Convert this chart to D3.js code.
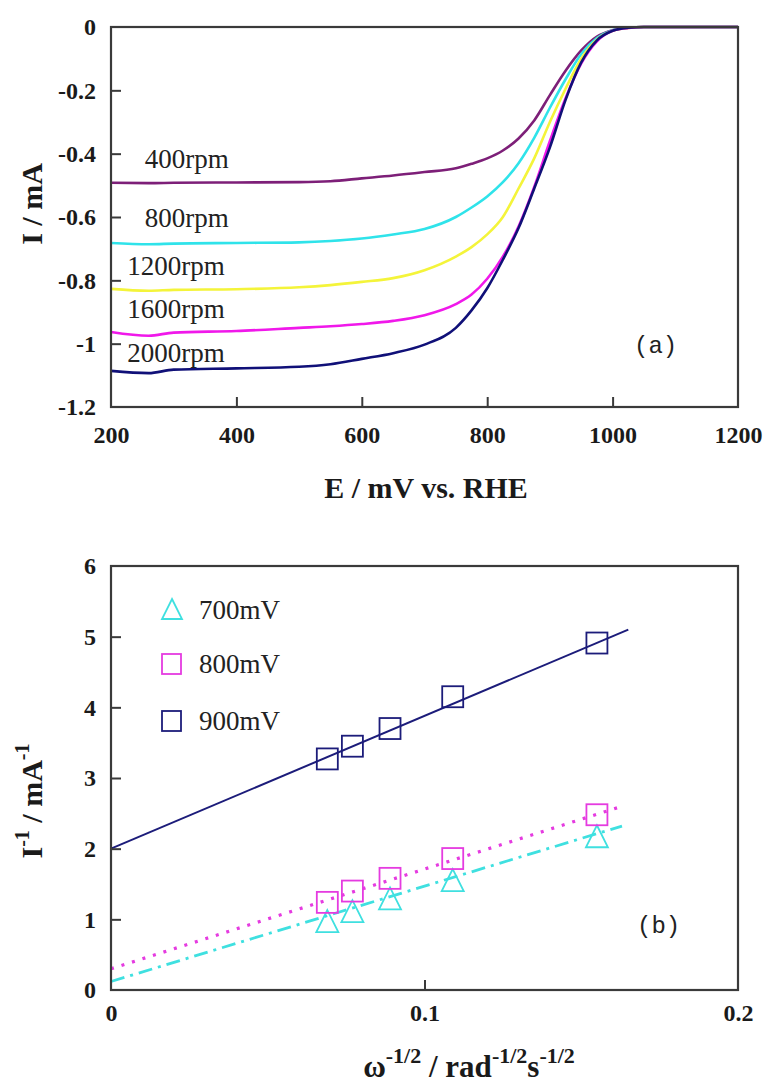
<!DOCTYPE html>
<html><head><meta charset="utf-8">
<script src="https://cdn.jsdelivr.net/npm/d3@7"></script>
<style>body{margin:0;background:#fff}</style>
</head><body>
<svg id="c" width="769" height="1084" xmlns="http://www.w3.org/2000/svg"></svg>
<script>
// ---------- Panel (a) data ----------
const potentials = [200, 260, 300, 400, 500, 550, 600, 650, 700, 750, 775, 800, 825, 850, 875, 900, 925, 950, 975, 1000, 1025, 1050, 1100, 1200];
const rpm400  = [-0.492,-0.493,-0.492,-0.491,-0.490,-0.487,-0.478,-0.469,-0.458,-0.446,-0.432,-0.415,-0.390,-0.352,-0.295,-0.215,-0.138,-0.074,-0.030,-0.010,-0.002,0,0,0];
const rpm800  = [-0.682,-0.686,-0.684,-0.682,-0.680,-0.676,-0.668,-0.655,-0.638,-0.600,-0.570,-0.535,-0.490,-0.430,-0.350,-0.255,-0.165,-0.085,-0.035,-0.010,-0.002,0,0,0];
const rpm1200 = [-0.827,-0.833,-0.830,-0.828,-0.822,-0.815,-0.805,-0.793,-0.768,-0.725,-0.695,-0.655,-0.600,-0.510,-0.415,-0.300,-0.195,-0.100,-0.040,-0.012,-0.003,0,0,0];
const rpm1600 = [-0.963,-0.975,-0.965,-0.960,-0.950,-0.945,-0.938,-0.928,-0.910,-0.875,-0.845,-0.795,-0.725,-0.630,-0.505,-0.360,-0.225,-0.115,-0.045,-0.012,-0.003,0,0,0];
const rpm2000 = [-1.086,-1.093,-1.082,-1.078,-1.073,-1.065,-1.048,-1.030,-1.003,-0.950,-0.895,-0.825,-0.735,-0.635,-0.510,-0.380,-0.230,-0.112,-0.042,-0.012,-0.002,0,0,0];
const rpmLabels = ["400rpm", "800rpm", "1200rpm", "1600rpm", "2000rpm"];
const rpmLabelAnchor = [-0.445, -0.632, -0.783, -0.919, -1.058];   // baseline value of each label
const rpmLabelE = [254, 254, 226, 226, 226];
const xTicksA = [200, 400, 600, 800, 1000, 1200];
const yTicksA = [0, -0.2, -0.4, -0.6, -0.8, -1, -1.2];

// ---------- Panel (b) data ----------
const omegaInv = [0.069, 0.077, 0.089, 0.109, 0.155];
const inv700 = [0.96, 1.10, 1.28, 1.54, 2.16];
const inv800 = [1.24, 1.40, 1.58, 1.86, 2.48];
const inv900 = [3.27, 3.45, 3.70, 4.15, 4.91];
const fitX900 = [0, 0.165];
const fitX78 = [0, 0.163];
const fit700 = [0.12, 2.32];
const fit800 = [0.30, 2.60];
const fit900 = [2.00, 5.10];
const legendLabels = ["700mV", "800mV", "900mV"];
const xTicksB = [0, 0.1, 0.2];
const yTicksB = [0, 1, 2, 3, 4, 5, 6];

const svg = d3.select("#c");
const serif = "'Liberation Serif','Times New Roman',serif";
const mono = "'Liberation Mono','Courier New',monospace";
const frameCol = "#3a3a3a";
const plain = d => String(d);

function styleAxis(g) {
  g.attr("font-family", null).attr("font-size", null);
  g.select(".domain").remove();
  g.selectAll(".tick line").attr("stroke", frameCol).attr("stroke-width", 2);
  g.selectAll(".tick text").style("font-family", serif).style("font-weight", "bold")
    .style("font-size", "24px").attr("fill", "#1a1a1a");
}

// ===== Panel (a) =====
const L = 111, R = 738;
const xA = d3.scaleLinear().domain([200, 1200]).range([L, R]);
const yA = d3.scaleLinear().domain([-1.2, 0]).range([407, 27]);
const gA = svg.append("g");

const colorsA = ["#7d1f78", "#2fe3ea", "#f4f43a", "#f018ea", "#101078"];
const seriesA = [rpm400, rpm800, rpm1200, rpm1600, rpm2000];
const lineA = d3.line().x((d, i) => xA(potentials[i])).y(d => yA(d)).curve(d3.curveMonotoneX);
seriesA.forEach((s, k) => {
  gA.append("path").attr("d", lineA(s)).attr("fill", "none")
    .attr("stroke", colorsA[k]).attr("stroke-width", 2.6);
});

// axes (inward ticks)
const axL = d3.axisLeft(yA).tickValues(yTicksA).tickSize(-10).tickFormat(plain).tickPadding(15);
const axB = d3.axisBottom(xA).tickValues(xTicksA).tickSize(-10).tickFormat(plain).tickPadding(19);
const gyA = gA.append("g").attr("transform", `translate(${L},0)`).call(axL);
const gxA = gA.append("g").attr("transform", `translate(0,407)`).call(axB);
styleAxis(gyA); styleAxis(gxA);
gyA.selectAll(".tick line").filter(d => d === 0 || d === -1.2).remove();
gxA.selectAll(".tick line").filter(d => d === 200 || d === 1200).remove();
gA.append("rect").attr("x", L).attr("y", 27).attr("width", R - L).attr("height", 380)
  .attr("fill", "none").attr("stroke", frameCol).attr("stroke-width", 2.2);

rpmLabels.forEach((t, k) => {
  gA.append("text").attr("x", xA(rpmLabelE[k])).attr("y", yA(rpmLabelAnchor[k]))
    .attr("font-family", serif).attr("font-size", 27).attr("fill", "#222").text(t);
});
gA.append("text").attr("x", 634).attr("y", 353).attr("font-family", mono)
  .attr("font-size", 24).attr("fill", "#222").text("(a)");
gA.append("text").attr("x", 426).attr("y", 498).attr("text-anchor", "middle")
  .attr("font-family", serif).attr("font-weight", "bold").attr("font-size", 30).attr("fill", "#1a1a1a")
  .text("E / mV vs. RHE");
gA.append("text").attr("transform", "translate(42,204) rotate(-90)").attr("text-anchor", "middle")
  .attr("font-family", serif).attr("font-weight", "bold").attr("font-size", 30).attr("fill", "#1a1a1a")
  .text("I / mA");

// ===== Panel (b) =====
const xB = d3.scaleLinear().domain([0, 0.2]).range([L, R]);
const yB = d3.scaleLinear().domain([0, 6]).range([990, 566]);
const gB = svg.append("g");

const cCyan = "#3fe0e0", cMag = "#e53be0", cNavy = "#1c1c7a";
const seg = (xs, ys) => d3.line().x((d, i) => xB(xs[i])).y(d => yB(d))(ys);
gB.append("path").attr("d", seg(fitX78, fit700)).attr("stroke", cCyan).attr("stroke-width", 2.8)
  .attr("fill", "none").attr("stroke-dasharray", "14,6,3,6");
gB.append("path").attr("d", seg(fitX78, fit800)).attr("stroke", cMag).attr("stroke-width", 3.2)
  .attr("fill", "none").attr("stroke-dasharray", "3,8");
gB.append("path").attr("d", seg(fitX900, fit900)).attr("stroke", cNavy).attr("stroke-width", 2)
  .attr("fill", "none");

const sqSize = 21;
const triPath = (cx, cy, s) => `M${cx},${cy - s * 0.55}L${cx + s / 2},${cy + s * 0.45}L${cx - s / 2},${cy + s * 0.45}Z`;
omegaInv.forEach((x, i) => {
  gB.append("path").attr("d", triPath(xB(x), yB(inv700[i]), 22)).attr("fill", "none")
    .attr("stroke", cCyan).attr("stroke-width", 1.8);
});
[[inv800, cMag], [inv900, cNavy]].forEach(([arr, col]) => {
  omegaInv.forEach((x, i) => {
    gB.append("rect").attr("x", xB(x) - sqSize / 2).attr("y", yB(arr[i]) - sqSize / 2)
      .attr("width", sqSize).attr("height", sqSize).attr("fill", "none")
      .attr("stroke", col).attr("stroke-width", 1.8);
  });
});

const axLB = d3.axisLeft(yB).tickValues(yTicksB).tickSize(-10).tickFormat(plain).tickPadding(15);
const axBB = d3.axisBottom(xB).tickValues(xTicksB).tickSize(-10).tickPadding(14).tickFormat(plain);
const gyB = gB.append("g").attr("transform", `translate(${L},0)`).call(axLB);
const gxB = gB.append("g").attr("transform", `translate(0,990)`).call(axBB);
styleAxis(gyB); styleAxis(gxB);
gyB.selectAll(".tick line").filter(d => d === 0 || d === 6).remove();
gxB.selectAll(".tick line").filter(d => d === 0 || d === 0.2).remove();
gB.append("rect").attr("x", L).attr("y", 566).attr("width", R - L).attr("height", 424)
  .attr("fill", "none").attr("stroke", frameCol).attr("stroke-width", 2.2);

// legend
const legY = [610, 664, 721];
const legCols = [cCyan, cMag, cNavy];
legendLabels.forEach((t, k) => {
  if (k === 0) {
    gB.append("path").attr("d", triPath(172, legY[k], 20)).attr("fill", "none")
      .attr("stroke", legCols[k]).attr("stroke-width", 1.8);
  } else {
    gB.append("rect").attr("x", 162).attr("y", legY[k] - 10).attr("width", 19).attr("height", 20)
      .attr("fill", "none").attr("stroke", legCols[k]).attr("stroke-width", 1.8);
  }
  gB.append("text").attr("x", 199).attr("y", legY[k] + 9).attr("font-family", serif)
    .attr("font-size", 27).attr("fill", "#222").text(t);
});
gB.append("text").attr("x", 637).attr("y", 933).attr("font-family", mono)
  .attr("font-size", 24).attr("fill", "#222").text("(b)");

// axis titles
const xt = gB.append("text").attr("x", 469).attr("y", 1077).attr("text-anchor", "middle")
  .attr("font-family", serif).attr("font-weight", "bold").attr("font-size", 31).attr("fill", "#1a1a1a");
xt.append("tspan").text("ω");
xt.append("tspan").attr("dy", -14).attr("font-size", 22).text("-1/2");
xt.append("tspan").attr("dy", 14).text(" / rad");
xt.append("tspan").attr("dy", -14).attr("font-size", 22).text("-1/2");
xt.append("tspan").attr("dy", 14).text("s");
xt.append("tspan").attr("dy", -14).attr("font-size", 22).text("-1/2");

const yt = gB.append("text").attr("transform", "translate(42,801) rotate(-90)").attr("text-anchor", "middle")
  .attr("font-family", serif).attr("font-weight", "bold").attr("font-size", 30).attr("fill", "#1a1a1a");
yt.append("tspan").text("I");
yt.append("tspan").attr("dy", -13).attr("font-size", 20).text("-1");
yt.append("tspan").attr("dy", 13).text(" / mA");
yt.append("tspan").attr("dy", -13).attr("font-size", 20).text("-1");
</script>
</body></html>
